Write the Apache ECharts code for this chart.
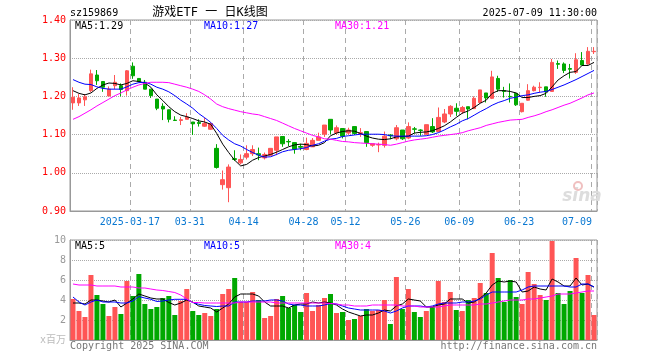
<!DOCTYPE html>
<html>
<head>
<meta charset="utf-8">
<script src="https://cdn.jsdelivr.net/npm/echarts@6/dist/echarts.min.js"></script>
<style>
html,body{margin:0;padding:0;background:#fff;}
#c{width:660px;height:360px;}
</style>
</head>
<body>
<div id="c"></div>
<script>
// ---- data ----
const dates = [
'2025-03-03','2025-03-04','2025-03-05','2025-03-06','2025-03-07','2025-03-10','2025-03-11','2025-03-12','2025-03-13','2025-03-14',
'2025-03-17','2025-03-18','2025-03-19','2025-03-20','2025-03-21','2025-03-24','2025-03-25','2025-03-26','2025-03-27','2025-03-28',
'2025-03-31','2025-04-01','2025-04-02','2025-04-03','2025-04-07','2025-04-08','2025-04-09','2025-04-10','2025-04-11','2025-04-14',
'2025-04-15','2025-04-16','2025-04-17','2025-04-18','2025-04-21','2025-04-22','2025-04-23','2025-04-24','2025-04-25','2025-04-28',
'2025-04-29','2025-04-30','2025-05-06','2025-05-07','2025-05-08','2025-05-09','2025-05-12','2025-05-13','2025-05-14','2025-05-15',
'2025-05-16','2025-05-19','2025-05-20','2025-05-21','2025-05-22','2025-05-23','2025-05-26','2025-05-27','2025-05-28','2025-05-29',
'2025-05-30','2025-06-03','2025-06-04','2025-06-05','2025-06-06','2025-06-09','2025-06-10','2025-06-11','2025-06-12','2025-06-13',
'2025-06-16','2025-06-17','2025-06-18','2025-06-19','2025-06-20','2025-06-23','2025-06-24','2025-06-25','2025-06-26','2025-06-27',
'2025-06-30','2025-07-01','2025-07-02','2025-07-03','2025-07-04','2025-07-07','2025-07-08','2025-07-09'];

const tickDates = ['2025-03-17','2025-03-31','2025-04-14','2025-04-28','2025-05-12','2025-05-26','2025-06-09','2025-06-23','2025-07-09'];

const openP = [
1.183,1.183,1.191,1.215,1.256,1.239,1.201,1.228,1.228,1.215,
1.279,1.247,1.237,1.219,1.193,1.174,1.165,1.138,1.137,1.140,
1.133,1.132,1.122,1.114,1.064,0.969,0.961,1.037,1.026,1.041,
1.050,1.050,1.039,1.046,1.059,1.095,1.082,1.079,1.069,1.061,
1.068,1.085,1.101,1.140,1.105,1.116,1.104,1.121,1.103,1.108,
1.072,1.073,1.072,1.099,1.089,1.112,1.091,1.115,1.112,1.101,
1.121,1.108,1.133,1.154,1.169,1.160,1.173,1.168,1.184,1.209,
1.195,1.247,1.215,1.200,1.208,1.160,1.190,1.215,1.223,1.225,
1.213,1.286,1.285,1.273,1.263,1.294,1.285,1.317];
const closeP = [
1.198,1.196,1.199,1.259,1.241,1.224,1.219,1.237,1.218,1.267,
1.254,1.239,1.219,1.202,1.169,1.167,1.140,1.137,1.139,1.146,
1.128,1.129,1.129,1.129,1.014,0.982,1.015,1.035,1.035,1.050,
1.061,1.047,1.048,1.064,1.094,1.076,1.081,1.062,1.067,1.077,
1.085,1.094,1.125,1.112,1.118,1.096,1.112,1.103,1.105,1.079,
1.076,1.074,1.096,1.097,1.118,1.089,1.121,1.114,1.111,1.126,
1.107,1.145,1.154,1.174,1.161,1.171,1.167,1.195,1.217,1.196,
1.251,1.219,1.213,1.199,1.178,1.182,1.215,1.224,1.224,1.212,
1.289,1.284,1.268,1.271,1.296,1.282,1.318,1.318];
const lowP = [
1.165,1.175,1.175,1.211,1.230,1.212,1.201,1.219,1.200,1.202,
1.246,1.237,1.219,1.196,1.164,1.138,1.132,1.137,1.125,1.140,
1.099,1.121,1.120,1.112,1.011,0.956,0.923,1.031,1.022,1.035,
1.044,1.033,1.035,1.044,1.046,1.068,1.070,1.050,1.059,1.059,
1.068,1.085,1.094,1.101,1.099,1.090,1.100,1.099,1.094,1.068,
1.068,1.054,1.066,1.088,1.085,1.086,1.088,1.103,1.097,1.099,
1.104,1.107,1.130,1.146,1.149,1.154,1.140,1.167,1.182,1.184,
1.193,1.212,1.197,1.184,1.175,1.158,1.189,1.213,1.211,1.199,
1.213,1.272,1.261,1.247,1.259,1.281,1.283,1.311];
const highP = [
1.224,1.206,1.206,1.270,1.269,1.239,1.226,1.256,1.234,1.269,
1.289,1.247,1.243,1.219,1.193,1.182,1.165,1.148,1.146,1.156,
1.133,1.140,1.144,1.132,1.075,1.006,1.022,1.059,1.048,1.072,
1.072,1.066,1.053,1.064,1.094,1.095,1.088,1.079,1.076,1.092,
1.091,1.105,1.125,1.140,1.124,1.116,1.118,1.121,1.117,1.108,
1.076,1.079,1.108,1.101,1.125,1.112,1.132,1.120,1.114,1.126,
1.143,1.171,1.167,1.177,1.182,1.175,1.173,1.200,1.217,1.209,
1.267,1.254,1.225,1.234,1.208,1.182,1.232,1.228,1.237,1.225,
1.298,1.294,1.289,1.285,1.313,1.316,1.329,1.329];

const ma5 = [
1.215,1.208,1.204,1.209,1.221,1.230,1.235,1.234,1.230,1.234,
1.241,1.239,1.235,1.224,1.204,1.189,1.173,1.160,1.151,1.147,
1.142,1.136,1.133,1.127,1.103,1.075,1.053,1.033,1.018,1.022,
1.033,1.040,1.044,1.048,1.054,1.061,1.068,1.073,1.075,1.074,
1.070,1.072,1.079,1.097,1.104,1.108,1.110,1.109,1.103,1.096,
1.091,1.088,1.087,1.089,1.094,1.095,1.096,1.104,1.106,1.107,
1.110,1.116,1.123,1.133,1.145,1.156,1.162,1.171,1.182,1.190,
1.208,1.215,1.215,1.213,1.209,1.197,1.197,1.200,1.202,1.208,
1.225,1.243,1.254,1.263,1.265,1.281,1.281,1.289];
const ma10 = [
1.244,1.237,1.232,1.231,1.225,1.221,1.219,1.219,1.219,1.225,
1.232,1.236,1.237,1.232,1.224,1.219,1.212,1.202,1.190,1.180,
1.169,1.155,1.144,1.132,1.116,1.098,1.086,1.076,1.070,1.061,
1.053,1.046,1.041,1.042,1.048,1.055,1.059,1.061,1.063,1.066,
1.072,1.076,1.083,1.088,1.090,1.095,1.097,1.099,1.101,1.101,
1.101,1.101,1.100,1.097,1.096,1.096,1.096,1.096,1.096,1.097,
1.100,1.105,1.112,1.120,1.127,1.136,1.142,1.151,1.160,1.168,
1.177,1.184,1.189,1.195,1.198,1.202,1.204,1.208,1.211,1.213,
1.218,1.224,1.230,1.237,1.244,1.252,1.260,1.268];
const ma30 = [
1.140,1.147,1.156,1.165,1.175,1.184,1.193,1.202,1.209,1.217,
1.224,1.230,1.234,1.237,1.237,1.237,1.236,1.232,1.228,1.224,
1.219,1.213,1.204,1.193,1.180,1.173,1.168,1.164,1.160,1.157,
1.154,1.152,1.147,1.142,1.137,1.130,1.123,1.116,1.110,1.104,
1.098,1.094,1.089,1.088,1.085,1.082,1.081,1.079,1.078,1.077,
1.076,1.075,1.074,1.072,1.075,1.079,1.083,1.086,1.088,1.090,
1.093,1.096,1.098,1.100,1.102,1.105,1.110,1.114,1.118,1.124,
1.128,1.132,1.135,1.138,1.139,1.140,1.145,1.149,1.154,1.160,
1.165,1.171,1.177,1.182,1.189,1.196,1.204,1.209];

const volume = [
4.1,2.9,2.3,6.5,4.5,3.6,2.4,3.3,2.6,5.9,
4.4,6.6,3.6,3.1,3.3,4.2,4.4,2.5,3.9,5.1,
2.9,2.5,2.7,2.4,3.1,4.6,5.1,6.2,3.8,3.8,
4.8,4.0,2.2,2.4,4.1,4.4,3.2,3.5,2.8,4.7,
2.9,3.5,4.2,4.6,2.7,2.8,2.0,2.1,2.4,3.1,
2.9,3.0,4.0,1.6,6.3,3.1,5.1,2.8,2.3,2.9,
3.3,5.9,3.8,4.8,3.0,2.9,4.0,4.2,5.7,4.7,
8.7,6.2,3.8,6.0,4.3,3.6,6.8,5.6,4.5,4.0,
9.9,4.7,3.6,4.9,8.2,4.7,6.5,2.5];
const vma5 = [
3.7,3.7,3.6,4.0,4.0,3.9,3.8,4.0,3.3,3.7,
4.1,4.6,4.4,4.2,4.1,4.1,3.75,3.5,3.7,4.0,
3.8,3.4,3.3,3.2,2.8,3.2,3.6,4.3,4.6,4.6,
4.6,4.4,3.8,3.4,3.4,3.4,3.2,3.5,3.6,3.6,
3.8,3.7,3.8,3.7,3.5,3.1,2.8,2.6,2.4,2.5,
2.5,2.7,3.0,2.9,3.4,3.6,4.1,4.0,3.9,3.3,
3.3,3.5,3.6,4.1,4.1,4.1,3.7,3.8,4.2,4.7,
5.5,5.9,5.8,5.9,5.8,4.8,4.9,5.3,5.1,5.0,
6.1,5.8,5.4,5.4,6.2,5.5,5.6,5.3];
const vma10 = [
4.3,3.8,3.5,3.8,4.0,3.8,3.8,3.8,3.7,3.7,
3.9,4.35,4.2,4.07,3.85,3.9,4.0,4.07,4.07,4.07,
3.75,3.57,3.45,3.4,3.35,3.4,3.4,3.8,3.8,3.8,
3.9,3.9,3.9,4.0,4.0,3.9,3.6,3.5,3.5,3.4,
3.4,3.4,3.5,3.65,3.6,3.4,3.2,3.1,3.0,3.0,
3.0,3.0,2.9,2.7,2.9,3.2,3.4,3.4,3.4,3.3,
3.4,3.6,3.7,3.7,3.7,3.8,3.8,3.9,4.1,4.5,
4.8,4.8,4.8,4.8,4.8,5.0,5.3,5.4,5.4,5.4,
5.4,5.4,5.4,5.3,5.3,5.6,5.6,5.3];
const vma30 = [
5.6,5.5,5.5,5.5,5.4,5.4,5.4,5.4,5.3,5.3,
5.3,5.2,5.2,5.1,5.0,4.95,4.85,4.75,4.5,4.1,
3.75,3.75,3.7,3.7,3.7,3.7,3.7,3.7,3.8,3.8,
3.8,3.8,3.8,3.8,3.7,3.7,3.7,3.7,3.7,3.7,
3.7,3.7,3.7,3.65,3.6,3.5,3.5,3.4,3.4,3.4,
3.5,3.5,3.5,3.5,3.5,3.4,3.4,3.4,3.3,3.3,
3.3,3.3,3.4,3.5,3.5,3.5,3.5,3.5,3.6,3.6,
3.7,3.8,3.9,4.0,4.0,4.0,4.1,4.1,4.2,4.3,
4.4,4.6,4.6,4.6,4.7,4.8,4.9,4.9];

const priceTicks = [0.9, 1.0, 1.1, 1.2, 1.3, 1.4];
const legendPrice = ['MA5:1.29', 'MA10:1.27', 'MA30:1.21'];
const legendVol = ['MA5:5', 'MA10:5', 'MA30:4'];

// ---- chart ----
const UP = '#ff5555', DOWN = '#00a800';
const MONO = "'DejaVu Sans Mono', 'Liberation Mono', monospace";
const tickSet = new Set(tickDates);
const isTick = (idx, val) => tickSet.has(dates[idx]);
const GRID_L = 70, GRID_W = 527;

const chart = echarts.init(document.getElementById('c'), null, {renderer: 'canvas'});
const volColor = p => (closeP[p.dataIndex] >= openP[p.dataIndex] ? UP : DOWN);

const lineS = (name, data, color, xi, yi) => ({
  name, type: 'line', data, xAxisIndex: xi, yAxisIndex: yi,
  symbol: 'none', smooth: false, silent: true,
  lineStyle: {color, width: 1}, z: 5
});

chart.setOption({
  animation: false,
  backgroundColor: '#fff',
  grid: [
    {left: GRID_L, top: 20, width: GRID_W, height: 191, show: true, borderColor: '#999', borderWidth: 1},
    {left: GRID_L, top: 240, width: GRID_W, height: 100, show: true, borderColor: '#999', borderWidth: 1}
  ],
  xAxis: [
    {
      type: 'category', gridIndex: 0, data: dates, boundaryGap: true,
      axisLine: {lineStyle: {color: '#999'}}, axisTick: {show: false},
      axisLabel: {
        interval: isTick, margin: 6, color: '#0a78d2', fontFamily: MONO, fontSize: 10,
        formatter: (v) => {
          if (v === tickDates[0]) return '{n|' + v + '}';
          if (v === tickDates[tickDates.length - 1]) return '{last|' + v.slice(5) + '}';
          return '{n|' + v.slice(5) + '}';
        },
        rich: {
          n: {color: '#0a78d2', fontFamily: MONO, fontSize: 10, padding: [0, 6, 0, 0]},
          last: {color: '#0a78d2', fontFamily: MONO, fontSize: 10, padding: [0, 34, 0, 0]}
        }
      },
      splitLine: {show: true, interval: isTick, lineStyle: {color: '#aaa', type: [5, 4], width: 1}}
    },
    {
      type: 'category', gridIndex: 1, data: dates, boundaryGap: true,
      axisLine: {lineStyle: {color: '#999'}}, axisTick: {show: false},
      axisLabel: {show: false, interval: isTick},
      splitLine: {show: true, interval: isTick, lineStyle: {color: '#aaa', type: [5, 4], width: 1}}
    }
  ],
  yAxis: [
    {
      type: 'value', gridIndex: 0, min: priceTicks[0], max: priceTicks[priceTicks.length - 1], interval: 0.1,
      axisLine: {show: true, lineStyle: {color: '#999'}}, axisTick: {show: false},
      axisLabel: {color: '#ff0000', fontFamily: MONO, fontSize: 10, margin: 4, formatter: v => v.toFixed(2)},
      splitLine: {show: true, lineStyle: {color: '#aaa', type: 'dotted'}}
    },
    {
      type: 'value', gridIndex: 1, min: 0, max: 10, interval: 2,
      axisLine: {show: true, lineStyle: {color: '#999'}}, axisTick: {show: false},
      axisLabel: {color: '#999', fontFamily: MONO, fontSize: 10, margin: 4, formatter: v => (v === 0 ? '' : String(v))},
      splitLine: {show: true, lineStyle: {color: '#aaa', type: 'dotted'}}
    }
  ],
  series: [
    {
      name: 'K', type: 'candlestick', xAxisIndex: 0, yAxisIndex: 0,
      data: dates.map((d, i) => [openP[i], closeP[i], lowP[i], highP[i]]),
      barWidth: 4,
      itemStyle: {color: UP, color0: DOWN, borderColor: UP, borderColor0: DOWN, borderWidth: 1},
      z: 3
    },
    lineS('MA5', ma5, '#000000', 0, 0),
    lineS('MA10', ma10, '#0000ff', 0, 0),
    lineS('MA30', ma30, '#ff00ff', 0, 0),
    {
      name: 'VOL', type: 'bar', xAxisIndex: 1, yAxisIndex: 1, data: volume,
      barWidth: 5, itemStyle: {color: volColor}, z: 3
    },
    lineS('VMA5', vma5, '#000000', 1, 1),
    lineS('VMA10', vma10, '#0000ff', 1, 1),
    lineS('VMA30', vma30, '#ff00ff', 1, 1)
  ],
  graphic: {
    elements: [
      {type: 'text', x: 70, y: 13, style: {text: 'sz159869', fill: '#000', font: '10px ' + MONO, textVerticalAlign: 'middle'}},
      {type: 'text', x: 210, y: 13, style: {text: '游戏ETF 一 日K线图', fill: '#000', font: "12px 'DejaVu Sans Mono', 'Noto Sans CJK SC'", textAlign: 'center', textVerticalAlign: 'middle'}},
      {type: 'text', x: 597, y: 13, style: {text: '2025-07-09 11:30:00', fill: '#000', font: '10px ' + MONO, textAlign: 'right', textVerticalAlign: 'middle'}},
      {type: 'text', x: 75, y: 26, z: 10, style: {text: legendPrice[0], fill: '#000', font: '10px ' + MONO, textVerticalAlign: 'middle'}},
      {type: 'text', x: 204, y: 26, z: 10, style: {text: legendPrice[1], fill: '#0000ff', font: '10px ' + MONO, textVerticalAlign: 'middle'}},
      {type: 'text', x: 335, y: 26, z: 10, style: {text: legendPrice[2], fill: '#ff00ff', font: '10px ' + MONO, textVerticalAlign: 'middle'}},
      {type: 'text', x: 75, y: 246, z: 10, style: {text: legendVol[0], fill: '#000', font: '10px ' + MONO, textVerticalAlign: 'middle'}},
      {type: 'text', x: 204, y: 246, z: 10, style: {text: legendVol[1], fill: '#0000ff', font: '10px ' + MONO, textVerticalAlign: 'middle'}},
      {type: 'text', x: 335, y: 246, z: 10, style: {text: legendVol[2], fill: '#ff00ff', font: '10px ' + MONO, textVerticalAlign: 'middle'}},
      {type: 'text', x: 66, y: 340, style: {text: 'x百万', fill: '#bbb', font: "10px 'DejaVu Sans Mono', 'Noto Sans CJK SC'", textAlign: 'right', textVerticalAlign: 'middle'}},
      {type: 'text', x: 70, y: 346, style: {text: 'Copyright 2025 SINA.COM', fill: '#777', font: '10px ' + MONO, textVerticalAlign: 'middle'}},
      {type: 'text', x: 597, y: 346, style: {text: 'http://finance.sina.com.cn', fill: '#777', font: '10px ' + MONO, textAlign: 'right', textVerticalAlign: 'middle'}},
      {type: 'text', x: 582, y: 197, z: 1, style: {text: 'sina', fill: '#dddddd', font: "italic bold 17px 'DejaVu Sans', sans-serif", textAlign: 'center', textVerticalAlign: 'middle'}},
      {type: 'circle', x: 578, y: 186, z: 1, shape: {r: 4}, style: {fill: 'none', stroke: '#f0c0c0', lineWidth: 2}}
    ]
  }
});
</script>
</body>
</html>
